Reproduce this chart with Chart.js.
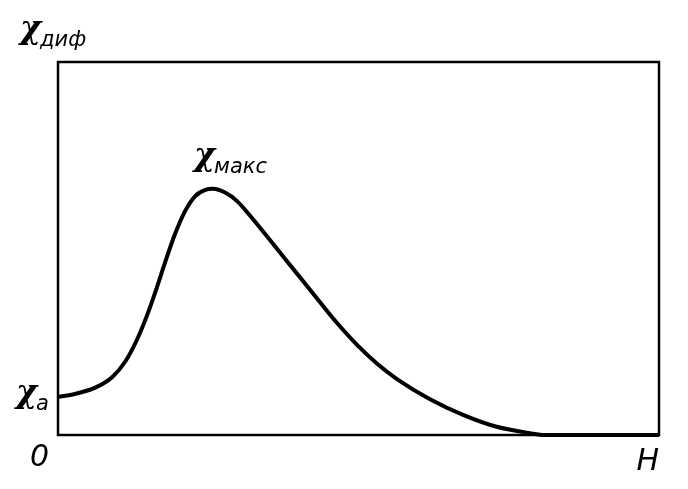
<!DOCTYPE html>
<html>
<head>
<meta charset="utf-8">
<script src="https://cdn.jsdelivr.net/npm/chart.js@4/dist/chart.umd.min.js"></script>
<style>
  html, body { margin: 0; padding: 0; background: #fff; }
  #wrap { width: 688px; height: 489px; }
</style>
</head>
<body>
<div id="wrap"><canvas id="myChart"></canvas></div>
<script>
// field H (relative units) and differential susceptibility
const hValues = [0, 2.8, 6.2, 9.0, 11.2, 13.1, 14.8, 16.5, 17.8, 19.5, 21.1, 22.8, 24.5, 25.8, 27.8, 29.8, 32.0, 34.9, 38.3, 40.9, 43.6, 46.4, 49.8, 53.1, 56.4, 61.9, 67.4, 73.0, 78.5, 81.0, 90, 100];
const chiValues = [10.2, 11.0, 12.7, 15.5, 19.7, 25.4, 32.0, 39.8, 46.2, 54.0, 59.9, 64.0, 65.7, 66.0, 65.0, 62.7, 58.7, 53.0, 46.2, 41.0, 35.6, 30.1, 24.1, 19.1, 15.0, 9.6, 5.4, 2.2, 0.5, 0, 0, 0];

const yAxisLabel = { main: 'χ', sub: 'диф' };
const peakLabel = { main: 'χ', sub: 'макс' };
const startLabel = { main: 'χ', sub: 'a' };
const originLabel = '0';
const xAxisLabel = 'H';

const mainFont = 'italic bold 32px "DejaVu Serif"';
const subFont = 'italic 21px "DejaVu Sans"';
const tickFont = 'italic 30px "DejaVu Sans"';

function drawChi(ctx, lbl, x, y) {
  ctx.font = mainFont;
  ctx.fillText(lbl.main, x, y);
  const w = ctx.measureText(lbl.main).width;
  ctx.font = subFont;
  ctx.fillText(lbl.sub, x + w - 1, y + 8);
}

const labelsPlugin = {
  id: 'labels',
  afterDraw(chart) {
    const ctx = chart.ctx;
    const a = chart.chartArea;
    const xs = chart.scales.x, ys = chart.scales.y;
    ctx.save();
    ctx.strokeStyle = '#000';
    ctx.lineWidth = 2.5;
    ctx.strokeRect(a.left, a.top, a.right - a.left, a.bottom - a.top);
    ctx.fillStyle = '#000';
    ctx.textBaseline = 'alphabetic';
    ctx.textAlign = 'left';
    drawChi(ctx, yAxisLabel, a.left - 38, a.top - 24);
    const peak = chiValues.indexOf(Math.max(...chiValues));
    drawChi(ctx, peakLabel, xs.getPixelForValue(hValues[peak]) - 19, ys.getPixelForValue(chiValues[peak]) - 24);
    drawChi(ctx, startLabel, a.left - 42, ys.getPixelForValue(chiValues[0]) + 5);
    ctx.font = tickFont;
    ctx.fillText(originLabel, a.left - 28, a.bottom + 31);
    ctx.textAlign = 'right';
    ctx.fillText(xAxisLabel, a.right, a.bottom + 35);
    ctx.restore();
  }
};

const ctx = document.getElementById('myChart').getContext('2d');
new Chart(ctx, {
  type: 'line',
  data: {
    datasets: [{
      data: hValues.map((h, i) => ({ x: h, y: chiValues[i] })),
      borderColor: '#000',
      borderWidth: 4,
      pointRadius: 0,
      cubicInterpolationMode: 'monotone',
      fill: false,
      clip: false
    }]
  },
  options: {
    responsive: true,
    maintainAspectRatio: false,
    animation: false,
    layout: { padding: { left: 58, top: 62, right: 29, bottom: 54 } },
    scales: {
      x: { type: 'linear', min: 0, max: 100, display: false },
      y: { type: 'linear', min: 0, max: 100, display: false }
    },
    plugins: {
      legend: { display: false },
      tooltip: { enabled: false }
    }
  },
  plugins: [labelsPlugin]
});
</script>
</body>
</html>
